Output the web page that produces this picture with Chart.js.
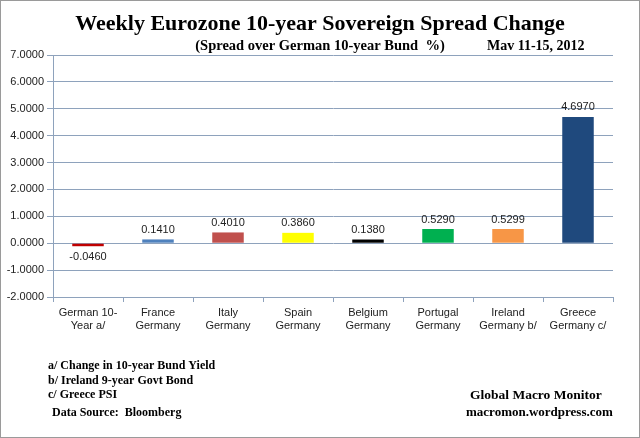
<!DOCTYPE html>
<html><head><meta charset="utf-8">
<script src="https://cdn.jsdelivr.net/npm/chart.js@4/dist/chart.umd.min.js"></script>
<style>html,body{margin:0;padding:0;background:#fff}#wrap{position:relative;width:640px;height:438px}</style>
</head><body><div id="wrap"><canvas id="c" width="640" height="438"></canvas></div>
<script>
const categories = [["German 10-","Year a/"],["France","Germany"],["Italy","Germany"],["Spain","Germany"],["Belgium","Germany"],["Portugal","Germany"],["Ireland","Germany b/"],["Greece","Germany c/"]];
const values = [-0.0460, 0.1410, 0.4010, 0.3860, 0.1380, 0.5290, 0.5299, 4.6970];
const barColors = ["#C00000","#4F81BD","#C0504D","#FFFF00","#000000","#00B050","#F79646","#1F497D"];
const yMin = -2, yMax = 7, yStep = 1;
const title = "Weekly Eurozone 10-year Sovereign Spread Change";
const subtitle = "(Spread over German 10-year Bund  %)";
const dateText = "Mav 11-15, 2012";
const footnotes = ["a/ Change in 10-year Bund Yield","b/ Ireland 9-year Govt Bond","c/ Greece PSI"];
const source = "Data Source:  Bloomberg";
const credit = ["Global Macro Monitor","macromon.wordpress.com"];

const gridColor = "#8EA2BC";
const textPlugin = {
  id:'texts',
  afterDraw(chart){
    const ctx = chart.ctx;
    ctx.save();
    ctx.strokeStyle = "#9a9a9a"; ctx.lineWidth = 1;
    ctx.strokeRect(0.5,0.5,639,437);
    ctx.fillStyle = "#000";
    ctx.textBaseline = "alphabetic";
    ctx.textAlign = "center";
    ctx.font = "bold 22px 'Liberation Serif'";
    ctx.fillText(title, 320, 30);
    ctx.font = "bold 14.5px 'Liberation Serif'";
    ctx.fillText(subtitle, 320, 50);
    ctx.textAlign = "left";
    ctx.font = "bold 14px 'Liberation Serif'";
    ctx.fillText(dateText, 487, 50);
    ctx.font = "bold 12px 'Liberation Serif'";
    footnotes.forEach((t,i)=>ctx.fillText(t, 48, 369 + i*14.5));
    ctx.fillText(source, 52, 416);
    ctx.font = "bold 13.5px 'Liberation Serif'";
    ctx.fillText(credit[0], 470, 399);
    ctx.font = "bold 13px 'Liberation Serif'";
    ctx.fillText(credit[1], 466, 416);
    // data labels
    const meta = chart.getDatasetMeta(0);
    ctx.font = "11px 'Liberation Sans'";
    ctx.fillStyle = "#222";
    ctx.textAlign = "center";
    meta.data.forEach((bar,i)=>{
      const v = values[i];
      const label = v.toFixed(4);
      if (v >= 0) { ctx.textBaseline = "bottom"; ctx.fillText(label, bar.x, bar.y - 4); }
      else { ctx.textBaseline = "top"; ctx.fillText(label, bar.x, bar.y + 5); }
    });
    ctx.restore();
  }
};

new Chart(document.getElementById('c'), {
  type:'bar',
  data:{labels:categories, datasets:[{data:values, backgroundColor:barColors, borderWidth:0, minBarLength:3, barPercentage:0.45, categoryPercentage:1}]},
  options:{
    responsive:false, animation:false,
    layout:{padding:{top:55,right:27,bottom:100,left:0}},
    plugins:{legend:{display:false}, tooltip:{enabled:false}},
    scales:{
      x:{
        grid:{drawOnChartArea:false, tickLength:5, color:gridColor, offset:true},
        border:{color:gridColor},
        ticks:{color:"#222", font:{family:"'Liberation Sans'", size:11}, maxRotation:0, autoSkip:false, padding:4},
        afterFit(s){ s.height = 41; }
      },
      y:{
        min:yMin, max:yMax,
        ticks:{stepSize:yStep, color:"#222", font:{family:"'Liberation Sans'", size:11}, padding:3, callback:v=>Number(v).toFixed(4)},
        grid:{color:gridColor, tickLength:6},
        border:{color:gridColor},
        afterFit(s){ s.width = 53; }
      }
    }
  },
  plugins:[textPlugin]
});
</script></body></html>
